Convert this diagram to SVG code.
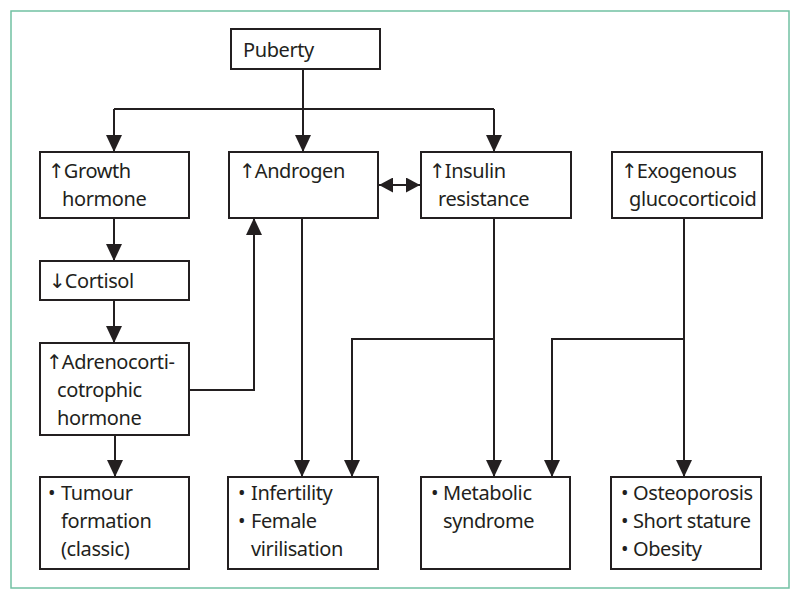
<svg xmlns="http://www.w3.org/2000/svg" width="800" height="600" viewBox="0 0 800 600">
<defs>
<style>
.box{fill:#fff;stroke:#231f20;stroke-width:2}
.ln{fill:none;stroke:#231f20;stroke-width:2}
text{font-family:"Noto Sans","Open Sans","DejaVu Sans",sans-serif;font-size:20px;letter-spacing:-0.4px;fill:#231f20}
.ar{font-family:"DejaVu Sans",sans-serif;font-size:20px;letter-spacing:-1px}
</style>
<marker id="ah" markerUnits="userSpaceOnUse" markerWidth="17" markerHeight="16" refX="17" refY="8" orient="auto" viewBox="0 0 17 16">
<path d="M0,0 L17,8 L0,16 z" fill="#231f20"/>
</marker>
<marker id="ahs" markerUnits="userSpaceOnUse" markerWidth="14" markerHeight="15" refX="14" refY="7.5" orient="auto" viewBox="0 0 14 15">
<path d="M0,0 L14,7.5 L0,15 z" fill="#231f20"/>
</marker>
<marker id="ahsr" markerUnits="userSpaceOnUse" markerWidth="14" markerHeight="15" refX="0" refY="7.5" orient="auto" viewBox="0 0 14 15">
<path d="M14,0 L0,7.5 L14,15 z" fill="#231f20"/>
</marker>
</defs>
<rect x="0" y="0" width="800" height="600" fill="#fff"/>
<rect x="11" y="11" width="778" height="577" fill="none" stroke="#72c1a3" stroke-width="1.5"/>

<g id="connectors">
<path class="ln" d="M303,69 V109"/>
<path class="ln" d="M114,109 H494"/>
<path class="ln" d="M114,109 V152" marker-end="url(#ah)"/>
<path class="ln" d="M303,109 V152" marker-end="url(#ah)"/>
<path class="ln" d="M494,109 V152" marker-end="url(#ah)"/>
<path class="ln" d="M379,185 H420" marker-start="url(#ahsr)" marker-end="url(#ahs)"/>
<path class="ln" d="M114,218 V261" marker-end="url(#ah)"/>
<path class="ln" d="M114,300 V343" marker-end="url(#ah)"/>
<path class="ln" d="M115,435 V477" marker-end="url(#ah)"/>
<path class="ln" d="M189,390 H254 V218" marker-end="url(#ah)"/>
<path class="ln" d="M302,218 V477" marker-end="url(#ah)"/>
<path class="ln" d="M494,218 V477" marker-end="url(#ah)"/>
<path class="ln" d="M494,339 H352 V477" marker-end="url(#ah)"/>
<path class="ln" d="M684,218 V477" marker-end="url(#ah)"/>
<path class="ln" d="M684,339 H552 V477" marker-end="url(#ah)"/>
</g>

<g id="puberty">
<rect class="box" x="231" y="29" width="149" height="40"/>
<text x="243" y="57">Puberty</text>
</g>
<g id="growth-hormone">
<rect class="box" x="40" y="152" width="149" height="66"/>
<text x="48" y="178"><tspan class="ar">↑</tspan>Growth</text>
<text x="62" y="206">hormone</text>
</g>
<g id="androgen">
<rect class="box" x="229" y="152" width="149" height="66"/>
<text x="239" y="178"><tspan class="ar">↑</tspan>Androgen</text>
</g>
<g id="insulin-resistance">
<rect class="box" x="421" y="152" width="150" height="66"/>
<text x="429" y="178"><tspan class="ar">↑</tspan>Insulin</text>
<text x="438" y="206">resistance</text>
</g>
<g id="exogenous-glucocorticoid">
<rect class="box" x="612" y="152" width="150" height="66"/>
<text x="621" y="178"><tspan class="ar">↑</tspan>Exogenous</text>
<text x="629" y="206">glucocorticoid</text>
</g>
<g id="cortisol">
<rect class="box" x="40" y="261" width="149" height="39"/>
<text x="49" y="288"><tspan class="ar">↓</tspan>Cortisol</text>
</g>
<g id="acth">
<rect class="box" x="40" y="343" width="149" height="92"/>
<text x="46" y="369"><tspan class="ar">↑</tspan>Adrenocorti-</text>
<text x="57" y="397">cotrophic</text>
<text x="57" y="425">hormone</text>
</g>
<g id="tumour">
<rect class="box" x="40" y="477" width="149" height="92"/>
<text x="48" y="500">•</text>
<text x="61" y="500">Tumour</text>
<text x="61" y="528">formation</text>
<text x="61" y="556">(classic)</text>
</g>
<g id="infertility">
<rect class="box" x="228" y="477" width="150" height="92"/>
<text x="238" y="500">•</text>
<text x="251" y="500">Infertility</text>
<text x="238" y="528">•</text>
<text x="251" y="528">Female</text>
<text x="251" y="556">virilisation</text>
</g>
<g id="metabolic">
<rect class="box" x="421" y="477" width="149" height="92"/>
<text x="431" y="500">•</text>
<text x="443" y="500">Metabolic</text>
<text x="443" y="528">syndrome</text>
</g>
<g id="osteoporosis">
<rect class="box" x="611" y="477" width="150" height="92"/>
<text x="621" y="500">•</text>
<text x="633" y="500">Osteoporosis</text>
<text x="621" y="528">•</text>
<text x="633" y="528">Short stature</text>
<text x="621" y="556">•</text>
<text x="633" y="556">Obesity</text>
</g>
</svg>
